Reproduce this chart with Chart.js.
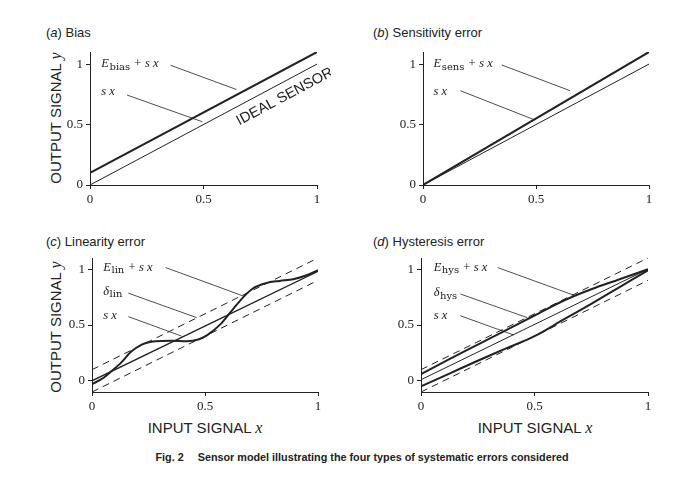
<!DOCTYPE html>
<html>
<head>
<meta charset="utf-8">
<script src="https://cdn.jsdelivr.net/npm/chart.js@4.4.1/dist/chart.umd.min.js"></script>
<style>
body { margin: 0; background: #fff; width: 695px; height: 481px; position: relative; overflow: hidden;
       font-family: "Liberation Sans", Arial, sans-serif; color: #222; }
canvas { position: absolute; }
.ttl { position: absolute; font-size: 13px; line-height: 13px; white-space: nowrap; }
.axt { position: absolute; font-size: 15px; line-height: 15px; white-space: nowrap; transform: translate(-50%, -50%); }
.rot { transform: translate(-50%, -50%) rotate(-90deg); }
.m { font-family: "Liberation Serif", serif; font-style: italic; font-size: 16px; }
.cap { position: absolute; font-size: 10.8px; font-weight: bold; white-space: nowrap; transform: translateX(-50%); }
</style>
</head>
<body>
<div class="ttl" style="left:46px;top:26px">(<i>a</i>) Bias</div>
<div class="ttl" style="left:373px;top:26px">(<i>b</i>) Sensitivity error</div>
<div class="ttl" style="left:46px;top:235px">(<i>c</i>) Linearity error</div>
<div class="ttl" style="left:373px;top:235px">(<i>d</i>) Hysteresis error</div>

<div class="axt rot" style="left:55px;top:118px">OUTPUT SIGNAL <span class="m">y</span></div>
<div class="axt rot" style="left:55px;top:327px">OUTPUT SIGNAL <span class="m">y</span></div>
<div class="axt" style="left:205px;top:427px">INPUT SIGNAL <span class="m">x</span></div>
<div class="axt" style="left:535px;top:427px">INPUT SIGNAL <span class="m">x</span></div>

<div class="cap" style="left:362px;top:451px">Fig. 2<span style="margin-left:14px">Sensor model illustrating the four types of systematic errors considered</span></div>

<canvas id="chartA"></canvas>
<canvas id="chartB"></canvas>
<canvas id="chartC"></canvas>
<canvas id="chartD"></canvas>

<script>
const xTicks = [0, 0.5, 1];
const yTicks = [0, 0.5, 1];

// straight lines, two end points each
const lineX = [0, 1];
const idealY = [0, 1];
const biasY = [0.1, 1.1];
const sensY = [0, 1.1];
const boundUpY = [0.1, 1.1];
const boundLowY = [-0.1, 0.9];
const linFitY = [0, 0.98];
const hysMidY = [0.01, 1.0];

// linearity error curve
const linX = [0, 0.05, 0.08, 0.13, 0.17, 0.22, 0.28, 0.35, 0.42, 0.47, 0.51, 0.57, 0.625, 0.67, 0.71, 0.77, 0.83, 0.89, 0.95, 1];
const linY = [-0.03, 0.025, 0.075, 0.165, 0.255, 0.325, 0.355, 0.36, 0.355, 0.37, 0.41, 0.51, 0.645, 0.75, 0.825, 0.875, 0.895, 0.91, 0.945, 0.99];

// hysteresis loop
const hysX = [0, 0.125, 0.25, 0.375, 0.5, 0.625, 0.75, 0.875, 1];
const hysUpY = [0.06, 0.195, 0.325, 0.455, 0.585, 0.715, 0.82, 0.91, 1.0];
const hysLowY = [-0.05, 0.065, 0.18, 0.29, 0.40, 0.545, 0.69, 0.84, 0.99];

// leader lines [x1, y1, x2, y2]
const leadA = [[0.355, 0.99, 0.645, 0.79], [0.163, 0.744, 0.495, 0.523]];
const leadB = [[0.349, 0.992, 0.651, 0.78], [0.165, 0.78, 0.496, 0.537]];
const leadC = [[0.326, 1.014, 0.677, 0.754], [0.161, 0.785, 0.463, 0.566], [0.161, 0.575, 0.397, 0.40]];
const leadD = [[0.338, 1.014, 0.678, 0.763], [0.173, 0.778, 0.468, 0.566], [0.173, 0.583, 0.409, 0.41]];

// label anchors [x, y]
const noteA = [[0.05, 1.0], [0.05, 0.775]];
const noteB = [[0.047, 1.0], [0.047, 0.77]];
const noteC = [[0.05, 1.014], [0.05, 0.80], [0.05, 0.58]];
const noteD = [[0.056, 1.014], [0.056, 0.785], [0.056, 0.583]];
const idealText = [0.858, 0.73];

const INK = '#222';

function pts(xs, ys) {
    return xs.map((x, i) => ({x: x, y: ys[i]}));
}

function curve(xs, ys, width, dash) {
    return {
        data: pts(xs, ys),
        showLine: true,
        borderColor: INK,
        borderWidth: width,
        borderDash: dash || [],
        pointRadius: 0,
        cubicInterpolationMode: 'monotone'
    };
}

function leaders(list) {
    return list.map(l => curve([l[0], l[2]], [l[1], l[3]], 0.8));
}

const notesPlugin = {
    id: 'notes',
    afterDatasetsDraw(chart, args, opts) {
        const ctx = chart.ctx;
        const sx = chart.scales.x, sy = chart.scales.y;
        ctx.save();
        ctx.fillStyle = INK;
        ctx.textBaseline = 'middle';
        ctx.textAlign = 'left';
        (opts.items || []).forEach(item => {
            let px = sx.getPixelForValue(item.at[0]);
            const py = sy.getPixelForValue(item.at[1]);
            item.parts.forEach(p => {
                const txt = p[0], kind = p[1];
                let size = 12.5, dy = 0, style = 'italic ';
                let family = '"Liberation Serif", serif';
                if (kind === 'r') style = '';
                if (kind === 's') { style = ''; size = 10; dy = 3; family = '"DejaVu Serif", serif'; }
                ctx.font = style + size + 'px ' + family;
                ctx.fillText(txt, px, py + dy);
                px += ctx.measureText(txt).width + (kind === 's' ? 1 : 0.5);
            });
        });
        if (opts.rotated) {
            const r = opts.rotated;
            const ang = Math.atan2(sy.getPixelForValue(1) - sy.getPixelForValue(0),
                sx.getPixelForValue(1) - sx.getPixelForValue(0));
            ctx.translate(sx.getPixelForValue(r.at[0]), sy.getPixelForValue(r.at[1]));
            ctx.rotate(ang);
            ctx.textAlign = 'center';
            ctx.font = '14.5px "Liberation Sans", Arial, sans-serif';
            ctx.fillText(r.text, 0, 0);
        }
        ctx.restore();
    }
};

function makePanel(id, box, yMin, datasets, items, rotated) {
    const cv = document.getElementById(id);
    const padL = 50, padT = 12, padR = 14, padB = 30;
    cv.width = box.w + padL + padR;
    cv.height = box.h + padT + padB;
    cv.style.left = (box.l - padL) + 'px';
    cv.style.top = (box.t - padT) + 'px';

    const axisCommon = {
        type: 'linear',
        grid: {drawOnChartArea: false, drawTicks: true, tickLength: 4, color: INK, lineWidth: 1},
        border: {display: true, color: INK, width: 1},
        ticks: {color: INK, font: {family: '"Liberation Serif", serif', size: 13}, padding: 3,
            maxRotation: 0, autoSkip: false, callback: v => String(v)}
    };

    return new Chart(cv.getContext('2d'), {
        type: 'scatter',
        data: {datasets: datasets},
        options: {
            responsive: false,
            animation: false,
            layout: {padding: {top: padT, right: padR, left: 0, bottom: 0}},
            plugins: {
                legend: {display: false},
                tooltip: {enabled: false},
                notes: {items: items, rotated: rotated}
            },
            scales: {
                x: Object.assign({}, axisCommon, {
                    min: 0, max: 1,
                    afterBuildTicks: s => { s.ticks = xTicks.map(v => ({value: v})); },
                    afterFit: s => { s.height = padB; }
                }),
                y: Object.assign({}, axisCommon, {
                    min: yMin, max: 1.1,
                    afterBuildTicks: s => { s.ticks = yTicks.map(v => ({value: v})); },
                    afterFit: s => { s.width = padL; }
                })
            }
        },
        plugins: [notesPlugin]
    });
}

function label(at, main, sub) {
    if (sub === undefined) return {at: at, parts: [[main, 'i']]};
    return {at: at, parts: [[main, 'i'], [sub, 's'], [' + ', 'r'], ['s x', 'i']]};
}

makePanel('chartA', {l: 90, t: 52, w: 227, h: 133}, 0,
    [curve(lineX, biasY, 2), curve(lineX, idealY, 1)].concat(leaders(leadA)),
    [label(noteA[0], 'E', 'bias'), label(noteA[1], 's x')],
    {at: idealText, text: 'IDEAL SENSOR'});

makePanel('chartB', {l: 423, t: 52, w: 226, h: 133}, 0,
    [curve(lineX, sensY, 2), curve(lineX, idealY, 1)].concat(leaders(leadB)),
    [label(noteB[0], 'E', 'sens'), label(noteB[1], 's x')]);

makePanel('chartC', {l: 92, t: 258, w: 226, h: 134}, -0.1,
    [curve(lineX, boundUpY, 1, [7, 5]), curve(lineX, boundLowY, 1, [7, 5]),
        curve(lineX, linFitY, 1.3), curve(linX, linY, 2)].concat(leaders(leadC)),
    [label(noteC[0], 'E', 'lin'),
        {at: noteC[1], parts: [['δ', 'i'], ['lin', 's']]},
        label(noteC[2], 's x')]);

makePanel('chartD', {l: 421, t: 258, w: 227, h: 134}, -0.1,
    [curve(lineX, boundUpY, 1, [7, 5]), curve(lineX, boundLowY, 1, [7, 5]),
        curve(lineX, hysMidY, 1), curve(hysX, hysUpY, 2), curve(hysX, hysLowY, 2)].concat(leaders(leadD)),
    [label(noteD[0], 'E', 'hys'),
        {at: noteD[1], parts: [['δ', 'i'], ['hys', 's']]},
        label(noteD[2], 's x')]);
</script>
</body>
</html>
